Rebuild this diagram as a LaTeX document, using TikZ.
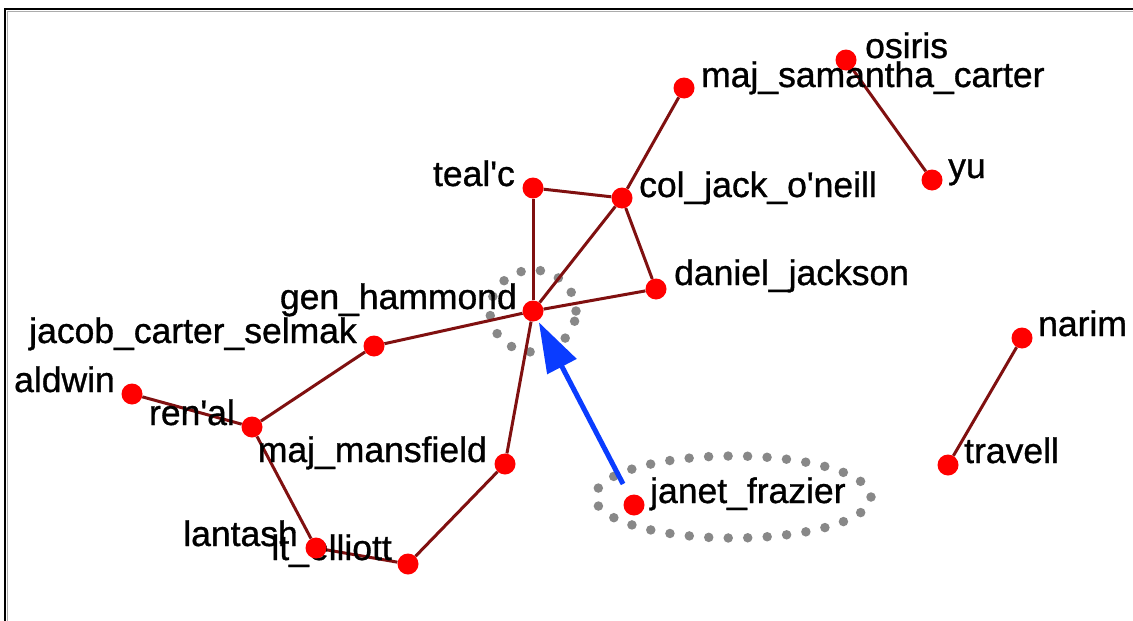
\documentclass[tikz,border=0pt]{standalone}
\usepackage{fontspec}
\setmainfont{Liberation Sans}
\newfontfamily\lblfont{Liberation Sans}[BoldFont={Liberation Sans},BoldFeatures={FakeBold=0.9}]
\usetikzlibrary{arrows.meta}
\pgfdeclarelayer{bg}
\pgfdeclarelayer{fg}
\pgfsetlayers{bg,main,fg}
\definecolor{edgered}{RGB}{128,16,16}
\definecolor{arrowblue}{RGB}{10,60,255}
\definecolor{selgray}{RGB}{136,136,136}
\begin{document}
\begin{tikzpicture}[x=1pt,y=-1pt,
  vtx/.style={circle,fill=red,inner sep=0pt,minimum size=21pt},
  lbl/.style={font=\lblfont\bfseries\fontsize{35.5}{40}\selectfont,inner sep=0pt,text=black},
  lr/.style={lbl,anchor=base west},
  ll/.style={lbl,anchor=base east},
  tie/.style={draw=edgered,line width=3pt},
  sel/.style={draw=selgray,line width=9.5pt,line cap=round,dash pattern=on 0pt off 19.5pt},
  pointer/.style={draw=arrowblue,line width=5pt,-{Triangle[length=50pt,width=32pt]}}]
\useasboundingbox (0,0) rectangle (1133,621);

% vertices
\begin{pgfonlayer}{fg}
\node[vtx] (h)  at (533,311) {};
\node[vtx] (tc) at (533,188) {};
\node[vtx] (cj) at (622,198) {};
\node[vtx] (sc) at (684,88) {};
\node[vtx] (dj) at (656,289) {};
\node[vtx] (jc) at (374,346) {};
\node[vtx] (al) at (132,394) {};
\node[vtx] (ra) at (252,427) {};
\node[vtx] (mm) at (505,464) {};
\node[vtx] (la) at (316,548) {};
\node[vtx] (le) at (408,564) {};
\node[vtx] (jf) at (634,505) {};
\node[vtx] (os) at (846,60) {};
\node[vtx] (yu) at (932,180) {};
\node[vtx] (na) at (1022,338) {};
\node[vtx] (tr) at (948,465) {};
\end{pgfonlayer}

% labels
\node[ll] (hL)  at ([xshift=-16pt,yshift=2pt]h.center)  {gen\_hammond};
\node[ll] (tcL) at ([xshift=-18pt,yshift=2pt]tc.center) {teal\textquotesingle c};
\node[lr] (cjL) at ([xshift=17pt,yshift=1pt]cj.center)  {col\_jack\_o\textquotesingle neill};
\node[lr] (scL) at ([xshift=17pt,yshift=1pt]sc.center)  {maj\_samantha\_carter};
\node[lr] (djL) at ([xshift=18pt,yshift=4pt]dj.center)  {daniel\_jackson};
\node[ll] (jcL) at ([xshift=-17pt,yshift=3pt]jc.center) {jacob\_carter\_selmak};
\node[ll] (alL) at ([xshift=-17pt,yshift=2pt]al.center) {aldwin};
\node[ll] (raL) at ([xshift=-17pt,yshift=2pt]ra.center) {ren\textquotesingle al};
\node[ll] (mmL) at ([xshift=-18pt,yshift=2pt]mm.center) {maj\_mansfield};
\node[ll] (laL) at ([xshift=-18pt,yshift=2pt]la.center) {lantash};
\node[ll] (leL) at ([xshift=-16pt,yshift=4pt]le.center) {lt\_elliott};
\node[lr] (jfL) at ([xshift=16pt,yshift=2pt]jf.center)  {janet\_frazier};
\node[lr] (osL) at ([xshift=19pt,yshift=2pt]os.center)  {osiris};
\node[lr] (yuL) at ([xshift=16pt,yshift=2pt]yu.center)  {yu};
\node[lr] (naL) at ([xshift=16pt,yshift=2pt]na.center)  {narim};
\node[lr] (trL) at ([xshift=16pt,yshift=2pt]tr.center)  {travell};

% background, border, selection rings, edges
\begin{pgfonlayer}{bg}
\fill[white] (0,0) rectangle (1133,621);
\draw[black,line width=2.5pt] (5,621) -- (5,9) -- (1133,9);
\draw[selgray!70,line width=1pt] (7.5,621) -- (7.5,11.5) -- (1133,11.5);
\draw[sel] (h.center) ellipse [x radius=43pt, y radius=41pt];
\draw[sel] ([xshift=99pt,yshift=8pt]jf.center) ellipse [x radius=138pt, y radius=41pt];
\draw[tie] (h) -- (tc);
\draw[tie] (tc) -- (cj);
\draw[tie] (cj) -- (sc);
\draw[tie] (cj) -- (dj);
\draw[tie] (h) -- (cj);
\draw[tie] (h) -- (dj);
\draw[tie] (h) -- (jc);
\draw[tie] (h) -- (mm);
\draw[tie] (jc) -- (ra);
\draw[tie] (al) -- (ra);
\draw[tie] (ra) -- (la);
\draw[tie] (la) -- (le);
\draw[tie] (le) -- (mm);
\draw[tie] (os) -- (yu);
\draw[tie] (na) -- (tr);
\end{pgfonlayer}
\draw[pointer,shorten <=13pt,shorten >=2pt] (jf) -- (h);
\end{tikzpicture}
\end{document}
